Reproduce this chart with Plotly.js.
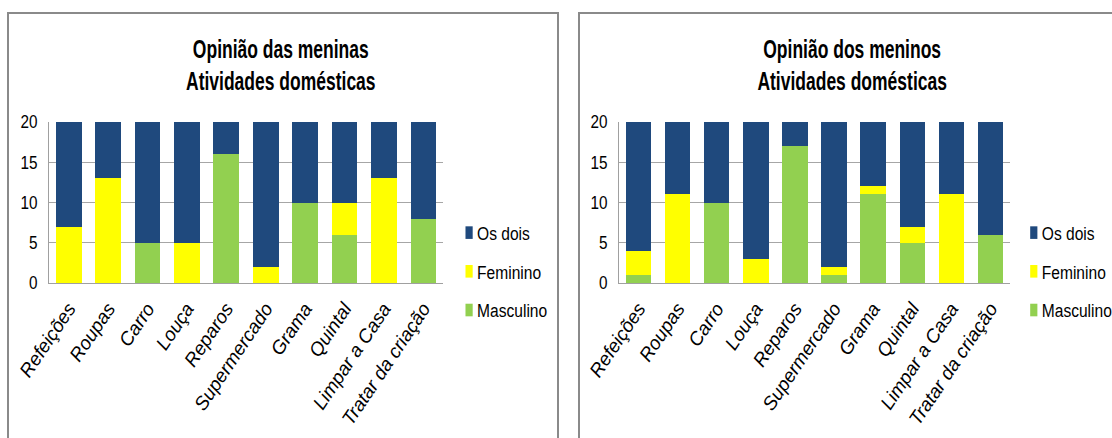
<!DOCTYPE html>
<html><head><meta charset="utf-8">
<script src="https://cdn.plot.ly/plotly-3.0.1.min.js"></script>
<style>
body{margin:0;background:#fff;width:1112px;height:438px;overflow:hidden;position:relative;}
.panel{position:absolute;border:2px solid #8a8a8a;background:#fff;}
#p1{left:7px;top:12px;width:548px;height:440px;}
#p2{left:578px;top:12px;width:540px;height:440px;}
</style></head>
<body>
<div id="p1" class="panel"></div>
<div id="p2" class="panel"></div>
<script>
const categories = ["Refeições","Roupas","Carro","Louça","Reparos","Supermercado","Grama","Quintal","Limpar a Casa","Tratar da criação"];
const seriesNames = ["Masculino","Feminino","Os dois"];
const seriesColors = ["#92D050","#FFFF00","#1F497D"];
const legendRanks = [3,2,1];
const meninasMasculino = [0,0,5,0,16,0,10,6,0,8];
const meninasFeminino  = [7,13,0,5,0,2,0,4,13,0];
const meninasOsDois    = [13,7,15,15,4,18,10,10,7,12];
const meninosMasculino = [1,0,10,0,17,1,11,5,0,6];
const meninosFeminino  = [3,11,0,3,0,1,1,2,11,0];
const meninosOsDois    = [16,9,10,17,3,18,8,13,9,14];
const yTicks = [0,5,10,15,20];
const titles = ["Opinião das meninas<br>Atividades domésticas","Opinião dos meninos<br>Atividades domésticas"];

const FONT = '"Liberation Sans", Arial, sans-serif';

function traces(m,f,o){
  return [m,f,o].map((vals,i)=>({
    type:'bar', x:categories, y:vals, name:seriesNames[i],
    legendgroup:seriesNames[i], legendrank:legendRanks[i],
    marker:{color:seriesColors[i], line:{width:0}},
    hoverinfo:'skip'
  }));
}

function layout(title, w, ml, mr, titleX, legX){
  return {
    width:w, height:440,
    margin:{l:ml, r:mr, t:108, b:171, pad:0, autoexpand:false},
    paper_bgcolor:'#fff', plot_bgcolor:'#fff',
    barmode:'stack', bargap:0.35,
    showlegend:true,
    title:{text:title, x:titleX, xref:'container', xanchor:'center', y:1-44/440, yref:'container', yanchor:'top',
      font:{family:FONT, size:25, color:'#000', weight:'bold'}},
    xaxis:{type:'category', tickangle:-56, showgrid:false, showline:true, linecolor:'#a0a0a0', linewidth:1,
      ticks:'', automargin:false, ticklabelstandoff:6, tickfont:{family:FONT, size:19, color:'#000', style:'italic'}},
    yaxis:{range:[0,20], tickvals:yTicks, ticktext:yTicks.map(String), showgrid:true, gridcolor:'#a6a6a6', gridwidth:1,
      showline:true, linecolor:'#a0a0a0', linewidth:1, ticks:'', zeroline:false, ticklabelstandoff:7, automargin:false,
      tickfont:{family:FONT, size:18, color:'#000'}},
    legend:{x:legX, xanchor:'left', y:0.43, yanchor:'top', tracegroupgap:11,
      itemwidth:30, font:{family:FONT, size:19, color:'#000'}, bgcolor:'rgba(0,0,0,0)'}
  };
}

function squeeze(el, s){
  const x = parseFloat(el.getAttribute('x'))||0, y = parseFloat(el.getAttribute('y'))||0;
  const tl = el.transform.baseVal;
  let m = {a:1,b:0,c:0,d:1,e:0,f:0};
  if (tl.numberOfItems) { const mm = tl.consolidate().matrix; m = {a:mm.a,b:mm.b,c:mm.c,d:mm.d,e:mm.e,f:mm.f}; }
  const px = m.a*x + m.c*y + m.e;
  el.setAttribute('transform', `matrix(${s*m.a},${m.b},${s*m.c},${m.d},${s*m.e + px*(1-s)},${m.f})`);
}
function finish(gd){
  gd.querySelectorAll('.gtitle').forEach(el=>squeeze(el,0.70));
  gd.querySelectorAll('.ytick text').forEach(el=>squeeze(el,0.85));
  gd.querySelectorAll('.legendtext').forEach(el=>squeeze(el,0.82));
  gd.querySelectorAll('.legend [clip-path]').forEach(el=>el.removeAttribute('clip-path'));
  gd.querySelectorAll('.legend .legendpoints path').forEach(el=>{
    el.setAttribute('transform', 'translate(20,0) scale(0.6,1.05) ' + (el.getAttribute('transform')||''));
  });
  gd.querySelectorAll('.xtick text').forEach(el=>{el.style.fontStyle='italic';});
}
const cfg = {staticPlot:true, displayModeBar:false};
Plotly.newPlot('p1', traces(meninasMasculino,meninasFeminino,meninasOsDois), layout(titles[0],548,40,114,0.496,0.985), cfg).then(finish);
Plotly.newPlot('p2', traces(meninosMasculino,meninosFeminino,meninosOsDois), layout(titles[1],540,39,110,0.504,0.979), cfg).then(finish);
</script>
</body></html>
